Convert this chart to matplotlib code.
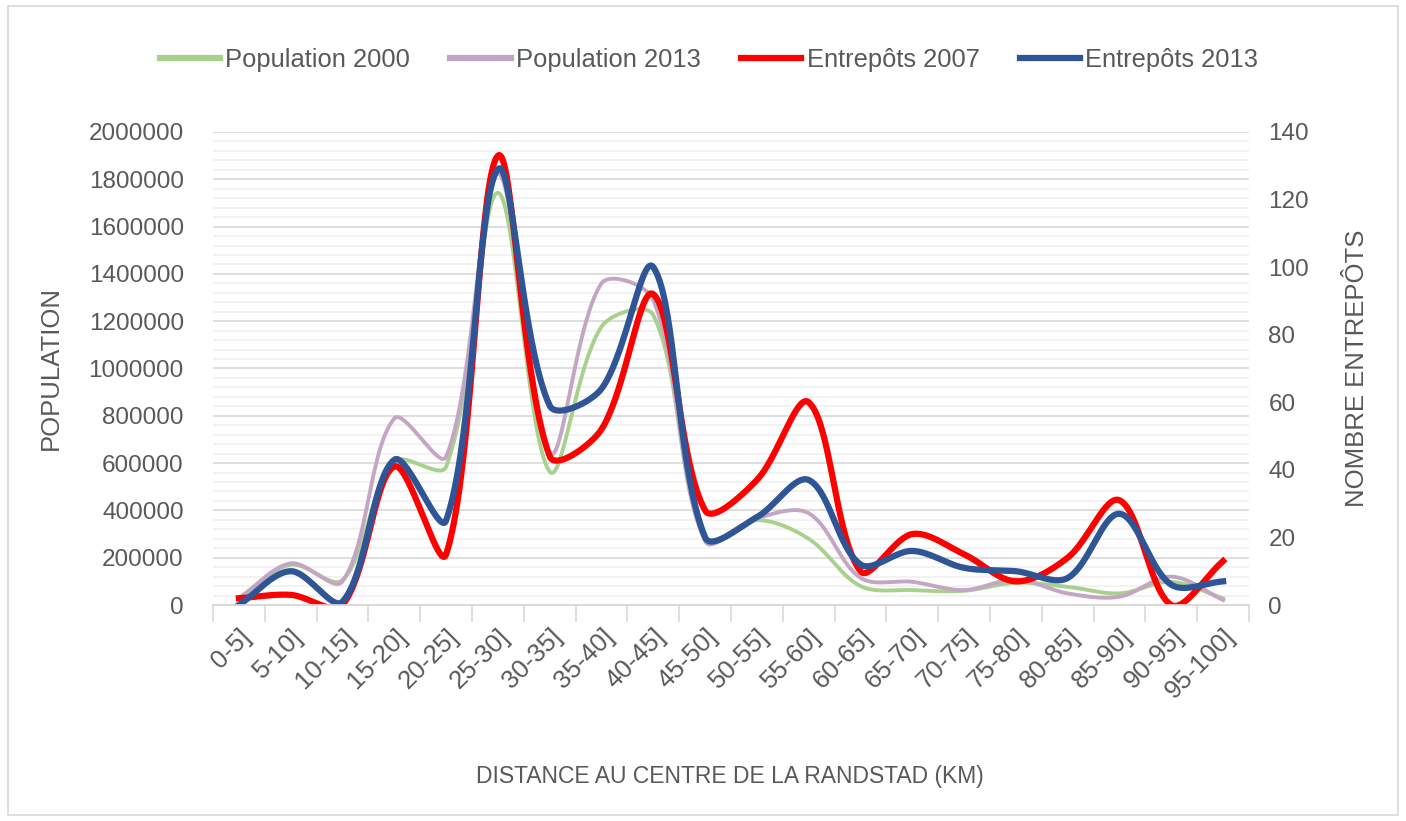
import matplotlib
matplotlib.use('Agg')
import matplotlib.pyplot as plt
from matplotlib.patches import Rectangle
from matplotlib.ticker import MultipleLocator, FixedLocator, StrMethodFormatter
import numpy as np

plt.rcParams['font.family'] = ['Liberation Sans', 'DejaVu Sans']

TEXT = '#595959'

classes = ['0-5]', '5-10]', '10-15]', '15-20]', '20-25]', '25-30]', '30-35]',
           '35-40]', '40-45]', '45-50]', '50-55]', '55-60]', '60-65]', '65-70]',
           '70-75]', '75-80]', '80-85]', '85-90]', '90-95]', '95-100]']

pop_2000 = [30000, 170000, 106000, 606000, 585000, 1743000, 564000, 1177000,
            1226000, 280000, 359000, 280000, 80000, 63000, 60000, 94000,
            77000, 49000, 98000, 28000]
pop_2013 = [28000, 176000, 100000, 789000, 627000, 1826000, 640000, 1360000,
            1290000, 270000, 367000, 388000, 115000, 98000, 63000, 108000,
            49000, 35000, 120000, 21000]
entr_2007 = [2, 3, 0, 41, 15, 133, 44, 52, 92, 28, 37, 60, 10, 21, 15, 7,
             14, 31, 0, 13]
entr_2013 = [0, 10, 1, 43, 25, 129, 59, 64, 100, 20, 26, 37, 12, 16, 11, 10,
             8, 27, 6, 7]

# plot area size in pixels, used to shape the smoothed curves on screen
AX_W, AX_H = 1036, 473
N = len(classes)


def smooth(y, ymax, steps=40):
    # Bezier smoothing through every point; handle lengths follow the
    # on-screen length of the neighbouring segments
    sx = AX_W / N
    sy = AX_H / ymax
    pts = np.column_stack([np.arange(len(y)) * sx, np.asarray(y, float) * sy])
    padded = np.vstack([pts[0], pts, pts[-1]])
    seg_len = np.linalg.norm(np.diff(padded, axis=0), axis=1)
    t = np.linspace(0, 1, steps)[:, None]
    out = []
    for i in range(len(pts) - 1):
        p0, p3 = padded[i + 1], padded[i + 2]
        l_prev, l_cur, l_next = seg_len[i], seg_len[i + 1], seg_len[i + 2]
        t0 = padded[i + 2] - padded[i]
        t1 = padded[i + 3] - padded[i + 1]
        c1 = p0 + t0 * l_cur / max(l_prev + l_cur, 1e-9) / 3
        c2 = p3 - t1 * l_cur / max(l_cur + l_next, 1e-9) / 3
        seg = ((1 - t) ** 3) * p0 + 3 * ((1 - t) ** 2) * t * c1 \
            + 3 * (1 - t) * t ** 2 * c2 + t ** 3 * p3
        out.append(seg if i == 0 else seg[1:])
    out = np.vstack(out)
    return out[:, 0] / sx, out[:, 1] / sy


fig = plt.figure(figsize=(14.06, 8.21), dpi=100)
fig.patches.append(Rectangle((8 / 1406, 6 / 821), 1390 / 1406, 809 / 821,
                             transform=fig.transFigure, fill=False,
                             edgecolor='#d9d9d9', linewidth=1.2))

ax = fig.add_axes([213 / 1406, 216 / 821, AX_W / 1406, AX_H / 821])
ax2 = ax.twinx()

l1, = ax.plot(*smooth(pop_2000, 2000000), color='#A9D18E', lw=2.8,
              label='Population 2000')
l2, = ax.plot(*smooth(pop_2013, 2000000), color='#C4A6C4', lw=2.8,
              label='Population 2013')
l3, = ax2.plot(*smooth(entr_2007, 140), color='#FF0000', lw=4.5,
               label='Entrepôts 2007')
l4, = ax2.plot(*smooth(entr_2013, 140), color='#2F5597', lw=4.5,
               label='Entrepôts 2013')

ax.set_xlim(-0.5, N - 0.5)
ax.set_ylim(0, 2000000)
ax2.set_ylim(0, 140)

ax.yaxis.set_major_locator(MultipleLocator(200000))
ax.yaxis.set_minor_locator(MultipleLocator(40000))
ax.yaxis.set_major_formatter(StrMethodFormatter('{x:.0f}'))
ax2.yaxis.set_major_locator(MultipleLocator(20))
ax.grid(axis='y', which='major', color='#d9d9d9', lw=1.2)
ax.grid(axis='y', which='minor', color='#f0f0f0', lw=1.2)
ax.set_axisbelow(True)

ax.set_xticks(np.arange(N))
ax.set_xticklabels(classes, rotation=45, ha='right', rotation_mode='anchor')
ax.xaxis.set_minor_locator(FixedLocator(np.arange(-0.5, N, 1.0)))
ax.tick_params(axis='x', which='major', length=0, pad=14, labelsize=18.5,
               labelcolor=TEXT)
ax.tick_params(axis='x', which='minor', length=12, color='#d9d9d9', width=1.2)
ax.tick_params(axis='y', which='both', length=0, pad=21, labelsize=17.5,
               labelcolor=TEXT)
ax2.tick_params(axis='y', length=0, pad=14, labelsize=17.5, labelcolor=TEXT)

for a in (ax, ax2):
    for side in ('top', 'left', 'right'):
        a.spines[side].set_visible(False)
    a.spines['bottom'].set_color('#d9d9d9')
    a.spines['bottom'].set_linewidth(1.2)

ax.set_ylabel('POPULATION', fontsize=18.5, color=TEXT)
ax.yaxis.set_label_coords(-0.145, 0.5)
ax2.set_ylabel('NOMBRE ENTREPÔTS', fontsize=18.5, color=TEXT)
ax2.yaxis.set_label_coords(1.093, 0.5)
ax.set_xlabel('DISTANCE AU CENTRE DE LA RANDSTAD (KM)', fontsize=16.5,
              color=TEXT)
ax.xaxis.set_label_coords(0.499, -0.338)

leg = fig.legend(handles=[l1, l2, l3, l4], loc='center', ncol=4,
                 bbox_to_anchor=(709 / 1406, 1 - 60 / 821), frameon=False,
                 fontsize=18.4, handlelength=2.35, handletextpad=0.2,
                 columnspacing=1.6)
for txt in leg.get_texts():
    txt.set_color(TEXT)
for line in leg.get_lines():
    line.set_linewidth(4.5)

fig.savefig('out.png', dpi=100)
